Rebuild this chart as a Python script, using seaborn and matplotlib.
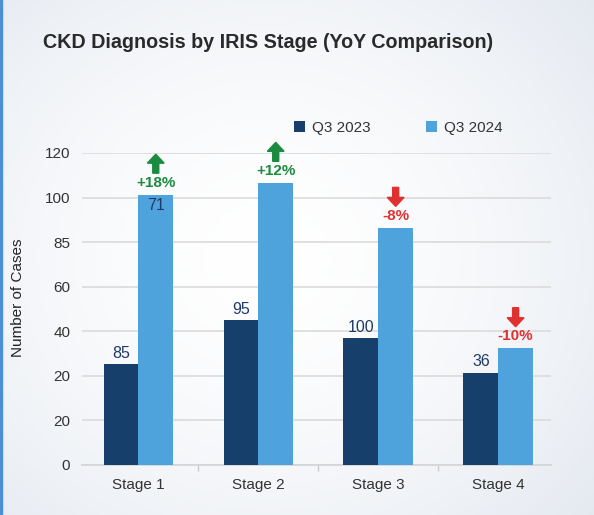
import numpy as np
import pandas as pd
import matplotlib
matplotlib.use("Agg")
import matplotlib.pyplot as plt
import seaborn as sns
from matplotlib.patches import FancyArrow, Rectangle, Patch
from matplotlib.transforms import offset_copy

# ---- data (values are positions on the drawn linear axis) ----
stages = ["Stage 1", "Stage 2", "Stage 3", "Stage 4"]
series = ["Q3 2023", "Q3 2024"]
q3_2023 = [45.2, 65.0, 56.8, 41.5]
q3_2024 = [121.3, 126.6, 106.4, 52.4]
q3_2023_labels = ["85", "95", "100", "36"]
q3_2024_labels = ["71", "", "", ""]
change_labels = ["+18%", "+12%", "-8%", "-10%"]
change_up = [True, True, False, False]
ytick_values = [0, 20, 40, 60, 80, 100, 120, 140]
ytick_labels = ["0", "20", "20", "40", "60", "85", "100", "120"]

df = pd.DataFrame({
    "stage": stages * 2,
    "period": [series[0]] * 4 + [series[1]] * 4,
    "value": q3_2023 + q3_2024,
})

DARK = "#173f6b"
LIGHT = "#4fa3dc"
GREEN = "#1b8b3f"
RED = "#e03131"
NUM = "#1f3a68"

sns.set_theme(style="white")
plt.rcParams["font.family"] = ["Liberation Sans", "DejaVu Sans"]

W, H = 594, 515
fig = plt.figure(figsize=(W / 100, H / 100), dpi=100)

# background gradient
bg = fig.add_axes([0, 0, 1, 1], zorder=-10)
yy, xx = np.mgrid[0:1:200j, 0:1:200j]
r = np.sqrt(((xx - 0.45) / 0.75) ** 2 + ((yy - 0.5) / 0.8) ** 2)
t = np.clip(r, 0, 1) ** 1.6
c0 = np.array([1.0, 1.0, 1.0])
c1 = np.array([0.89, 0.91, 0.94])
img = c0[None, None, :] * (1 - t[..., None]) + c1[None, None, :] * t[..., None]
bg.imshow(img, extent=[0, 1, 0, 1], aspect="auto", origin="lower")
bg.set_axis_off()
fig.patches.append(Rectangle((0, 0), 2 / W, 1, transform=fig.transFigure,
                             color="#4a8fd8", zorder=5))

ax = fig.add_axes([82 / W, 50 / H, 469 / W, 312 / H])
ax.set_facecolor("none")
sns.barplot(data=df, x="stage", y="value", hue="period", palette=[DARK, LIGHT],
            width=0.58, saturation=1, gap=0, ax=ax, legend=False, zorder=3,
            linewidth=0)

ax.set_ylim(0, 140)
ax.set_xlim(-0.47, 3.44)
ax.set_yticks(ytick_values)
ax.set_yticklabels(ytick_labels)
ax.grid(axis="y", color="#dddddd", linewidth=1.3, zorder=0)
ax.set_axisbelow(True)
for s in ["left", "right", "top"]:
    ax.spines[s].set_visible(False)
ax.spines["bottom"].set_color("#d6d6d6")
ax.spines["bottom"].set_linewidth(1.3)
ax.tick_params(axis="y", length=0, pad=8.5, labelsize=11, labelcolor="#333333")
ax.tick_params(axis="x", which="major", length=0, pad=9, labelsize=11, labelcolor="#333333")
ax.set_xticks([0.5, 1.5, 2.5], minor=True)
ax.tick_params(axis="x", which="minor", length=4, color="#cccccc", width=1, bottom=True)
ax.set_xlabel("")
ax.set_ylabel("Number of Cases", fontsize=11, color="#222222")
ax.yaxis.set_label_coords(-0.122, 0.535)

bars23 = ax.containers[0]
bars24 = ax.containers[1]

for bar, lab in zip(bars23, q3_2023_labels):
    cx = bar.get_x() + bar.get_width() / 2
    ax.annotate(lab, (cx, bar.get_height()), xytext=(0, 8), textcoords="offset points",
                ha="center", va="center", fontsize=11.5, color=NUM)

for bar, lab in zip(bars24, q3_2024_labels):
    if lab:
        cx = bar.get_x() + bar.get_width() / 2
        ax.annotate(lab, (cx, bar.get_height()), xytext=(0, -8), textcoords="offset points",
                    ha="center", va="center", fontsize=11.5, color=NUM)

for bar, lab, up in zip(bars24, change_labels, change_up):
    cx = bar.get_x() + bar.get_width() / 2
    top = bar.get_height()
    col = GREEN if up else RED
    ax.annotate(lab, (cx, top), xytext=(0, 8.5), textcoords="offset points",
                ha="center", va="center", fontsize=11, fontweight="bold", color=col,
                annotation_clip=False)
    tr = offset_copy(ax.transData, fig=fig, x=0, y=31, units="dots")
    L = 19 / (312 / 140)
    hl = 9 / (312 / 140)
    if up:
        arr = FancyArrow(cx, top - L / 2, 0, L, width=0.05, head_width=0.14,
                         head_length=hl, length_includes_head=True, transform=tr,
                         color=col, clip_on=False, zorder=6)
    else:
        arr = FancyArrow(cx, top + L / 2, 0, -L, width=0.05, head_width=0.14,
                         head_length=hl, length_includes_head=True, transform=tr,
                         color=col, clip_on=False, zorder=6)
    ax.add_patch(arr)

handles = [Patch(facecolor=DARK, edgecolor="none"), Patch(facecolor=LIGHT, edgecolor="none")]
fig.legend(handles, series, loc="center left", bbox_to_anchor=(280 / W, 1 - 128 / H),
           ncol=2, frameon=False, fontsize=11, handlelength=0.75, handleheight=0.75,
           handletextpad=0.45, columnspacing=3.6, labelcolor="#333333")

fig.text(268 / W, 1 - 42 / H, "CKD Diagnosis by IRIS Stage (YoY Comparison)",
         ha="center", va="center", fontsize=14.2, fontweight="bold", color="#2a2a2a")

fig.savefig("out.png", dpi=100)
